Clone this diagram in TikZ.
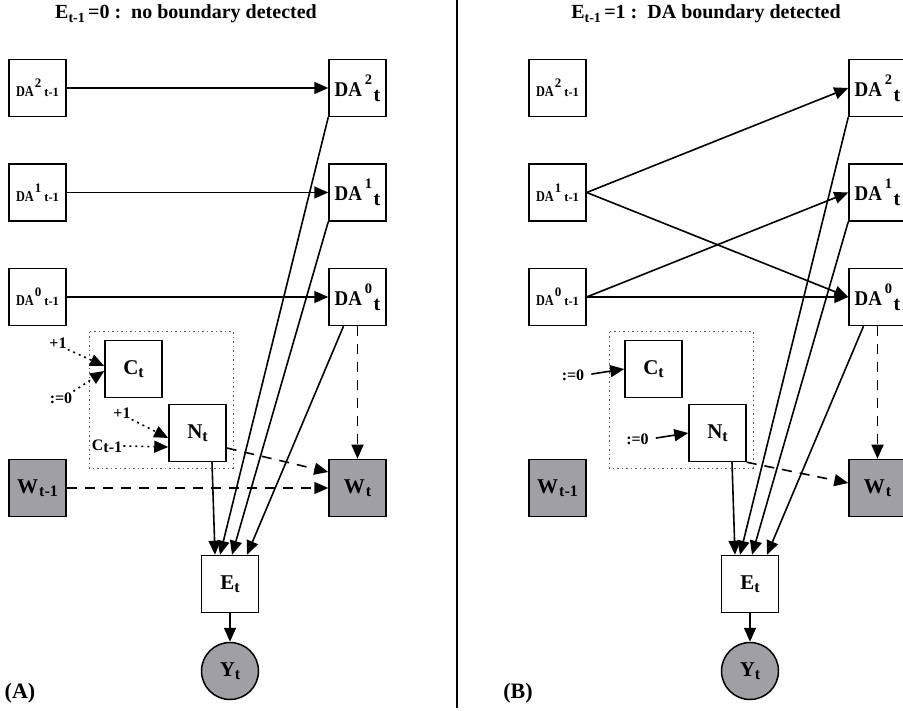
\documentclass[tikz,border=0pt]{standalone}
\usepackage{fontspec}
\setmainfont{Liberation Serif}
\usetikzlibrary{arrows.meta}
\definecolor{obsgray}{RGB}{160,160,164}
% index helpers (sizes in pt, 1pt = 1px of the picture)
\newcommand{\sub}[1]{\raisebox{-3pt}{\fontsize{16}{16}\selectfont #1}}
\newcommand{\headsub}[1]{\raisebox{-4pt}{\fontsize{14}{14}\selectfont #1}}
\newcommand{\dabig}[1]{\scalebox{0.9}[1]{DA}\kern3pt\raisebox{12pt}{\fontsize{14.5}{15}\selectfont #1}\kern1.5pt\raisebox{-5pt}{\fontsize{20}{20}\selectfont t}}
\newcommand{\dasmall}[1]{\scalebox{0.82}[1]{\fontsize{15}{16}\selectfont DA}\kern1pt\raisebox{9pt}{\fontsize{13}{13}\selectfont #1}\kern3pt{\fontsize{12.5}{13}\selectfont t-1}}

\begin{document}
\begin{tikzpicture}[x=1pt, y=-1pt, font=\bfseries,
  var/.style={draw, line width=1.5pt, minimum size=57pt, inner sep=0pt, font=\fontsize{21}{22}\selectfont\bfseries},
  prev/.style={var},
  obs/.style={var, fill=obsgray},
  link/.style={line width=1.6pt, -{Triangle[length=14pt,width=12pt]}},
  soft/.style={link, dash pattern=on 10pt off 8pt},
  reset/.style={link, dash pattern=on 2pt off 4pt},
  lbl/.style={inner sep=1pt, font=\fontsize{16}{17}\selectfont\bfseries},
  head/.style={font=\fontsize{20}{22}\selectfont\bfseries}]
\useasboundingbox (0,0) rectangle (903,711);

%divider
\node (top) at (457,0) {};
\node (bottom) at (457,708) {};
\draw[line width=1.5pt] (top.center) -- (bottom.center);

%panel A
\begin{scope}[name prefix=a-]
%nodes
\node (title) [head] at (186,14) {E\headsub{t-1}\,=0 :\ \ no boundary detected};
\node (tag) [head, font=\fontsize{22}{22}\selectfont\bfseries] at (20,693) {(A)};

\node (DA2p)[prev] at (37.5,88)    {\dasmall{2}};
\node (DA1p)[prev] at (37.5,192.5) {\dasmall{1}};
\node (DA0p)[prev] at (37.5,297)   {\dasmall{0}};

\node (DA2)[var] at (357.5,88)    {\dabig{2}};
\node (DA1)[var] at (357.5,192.5) {\dabig{1}};
\node (DA0)[var] at (357.5,297)   {\dabig{0}};

\draw[gray!70!black, line width=1pt, dash pattern=on 1.5pt off 3pt] (89,332) rectangle (233,468);
\node (C)[var] at (133.5,369) {C\sub{t}};
\node (N)[var] at (197.5,433) {N\sub{t}};

\node (Wp)[obs] at (37.5,488)  {W\kern1pt\sub{t-1}};
\node (W)[obs]  at (357.5,488) {W\kern1pt\sub{t}};

\node (E)[var] at (230,584) {E\sub{t}};
\node (Y)[var, circle, fill=obsgray] at (230,671) {Y\sub{t}};

\node (plusC)[lbl] at (58,343)  {+1};
\node (zeroC)[lbl] at (61,398)  {:=0};
\node (plusN)[lbl] at (122,413) {+1};
\node (Cprev)[lbl] at (107,446) {C\raisebox{-2pt}{t-1}};

%links
\draw[link] (DA2p) -- (DA2);
\draw[link] (DA1p) -- (DA1);
\draw[link] (DA0p) -- (DA0);

\draw[reset] (plusC.south east) -- ([yshift=3pt]C.west);
\draw[reset] (zeroC.north east) -- ([yshift=-2pt]C.west);
\draw[reset] (plusN.south east) -- ([yshift=-5pt]N.west);
\draw[reset] (Cprev.east) -- ([yshift=-14pt]N.west);

\draw[link] ([xshift=14.5pt]N.south) -- ([xshift=-15pt]E.north);
\draw[link] (DA2.south west) -- ([xshift=-10pt]E.north);
\draw[link] (DA1.south west) -- ([xshift=2pt]E.north);
\draw[link] ([xshift=-14pt]DA0.south) -- ([xshift=17pt]E.north);
\draw[link] (E) -- (Y);

\draw[soft] (DA0) -- (W);
\draw[soft] ([yshift=-15pt]N.east) -- ([yshift=16pt]W.west);
\draw[soft] (Wp) -- (W);
\end{scope}

%panel B
\begin{scope}[name prefix=b-, xshift=520pt]
%nodes
\node (title) [head] at (186,14) {E\headsub{t-1}\,=1 :\ \ DA boundary detected};
\node (tag) [head, font=\fontsize{22}{22}\selectfont\bfseries] at (-2,693) {(B)};

\node (DA2p)[prev] at (37.5,88)    {\dasmall{2}};
\node (DA1p)[prev] at (37.5,192.5) {\dasmall{1}};
\node (DA0p)[prev] at (37.5,297)   {\dasmall{0}};

\node (DA2)[var] at (357.5,88)    {\dabig{2}};
\node (DA1)[var] at (357.5,192.5) {\dabig{1}};
\node (DA0)[var] at (357.5,297)   {\dabig{0}};

\draw[gray!70!black, line width=1pt, dash pattern=on 1.5pt off 3pt] (89,332) rectangle (233,468);
\node (C)[var] at (133.5,369) {C\sub{t}};
\node (N)[var] at (197.5,433) {N\sub{t}};

\node (Wp)[obs] at (37.5,488)  {W\kern1pt\sub{t-1}};
\node (W)[obs]  at (357.5,488) {W\kern1pt\sub{t}};

\node (E)[var] at (230,584) {E\sub{t}};
\node (Y)[var, circle, fill=obsgray] at (230,671) {Y\sub{t}};

\node (zeroC)[lbl] at (53,375)   {:=0};
\node (zeroN)[lbl] at (117.5,439) {:=0};

%links
\draw[link] (DA1p.east) -- (DA2.west);
\draw[link] (DA1p.east) -- (DA0.west);
\draw[link] (DA0p.east) -- (DA1.west);
\draw[link] (DA0p.east) -- (DA0.west);

\draw[link, shorten <=6pt] (zeroC.east) -- (C.west);
\draw[link, shorten <=6pt] (zeroN.east) -- (N.west);

\draw[link] ([xshift=14.5pt]N.south) -- ([xshift=-15pt]E.north);
\draw[link] (DA2.south west) -- ([xshift=-10pt]E.north);
\draw[link] (DA1.south west) -- ([xshift=2pt]E.north);
\draw[link] ([xshift=-14pt]DA0.south) -- ([xshift=17pt]E.north);
\draw[link] (E) -- (Y);

\draw[soft] (DA0) -- (W);
\draw[soft] (N.south east) -- ([yshift=5pt]W.west);
\end{scope}
\end{tikzpicture}
\end{document}
